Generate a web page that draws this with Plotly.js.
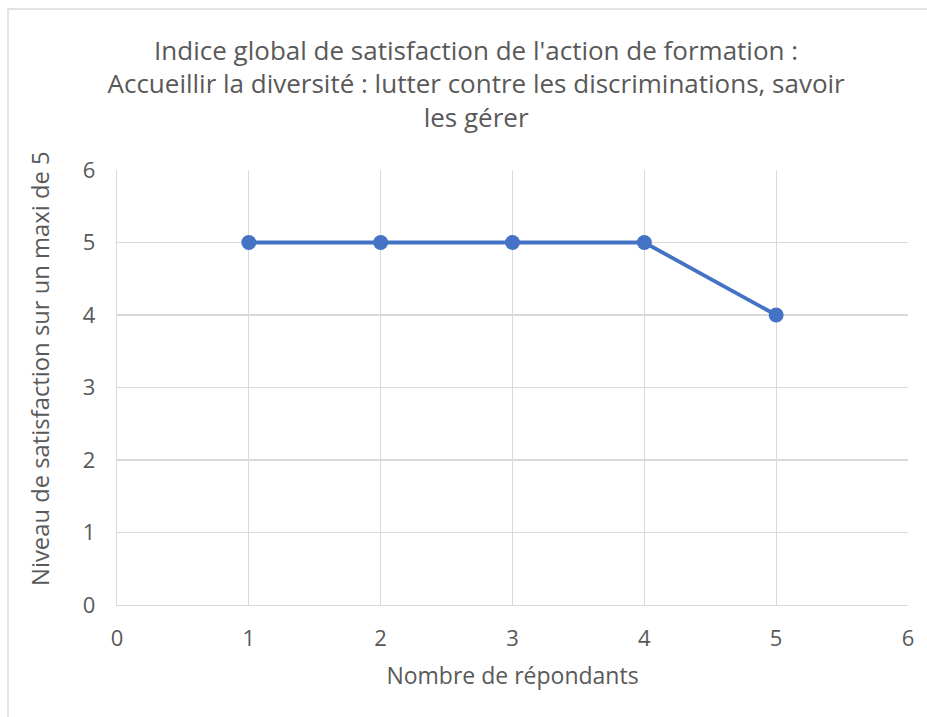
<!DOCTYPE html>
<html><head><meta charset="utf-8">
<script src="https://cdn.plot.ly/plotly-3.0.1.min.js"></script>
<style>html,body{margin:0;padding:0;background:#fff}#chart{width:927px;height:717px}</style>
</head><body><div id="chart"></div>
<script>
const respondents = [1, 2, 3, 4, 5];
const satisfaction = [5, 5, 5, 5, 4];
const xTicks = [0, 1, 2, 3, 4, 5, 6];
const yTicks = [0, 1, 2, 3, 4, 5, 6];
const titleText = "Indice global de satisfaction de l'action de formation :<br>Accueillir la diversité : lutter contre les discriminations, savoir<br>les gérer";
const xTitle = "Nombre de répondants";
const yTitle = "Niveau de satisfaction sur un maxi de 5";

const font = "Open Sans";
const grey = "#595959";
const trace = {
  x: respondents, y: satisfaction, type: "scatter", mode: "lines+markers",
  line: {color: "#4472C4", width: 3.8},
  marker: {color: "#4472C4", size: 15},
  cliponaxis: false
};
const layout = {
  width: 927, height: 717,
  margin: {l: 117, r: 19, t: 170, b: 112},
  paper_bgcolor: "#fff", plot_bgcolor: "#fff",
  showlegend: false,
  font: {family: font, color: grey, size: 18},
  title: {text: titleText, font: {family: font, size: 26, color: grey}, x: 0.454, xanchor: "center", y: 0.917, yanchor: "top", xref: "paper"},
  xaxis: {
    range: [0, 6], tickvals: xTicks, ticktext: xTicks.map(String),
    showgrid: true, gridcolor: "#d9d9d9", gridwidth: 1.3,
    zeroline: false, showline: true, linecolor: "#d9d9d9", linewidth: 1.3, mirror: false,
    ticks: "", tickfont: {size: 22, color: grey, family: font}, ticklabelstandoff: 13,
    title: {text: xTitle, font: {size: 23, color: grey, family: font}, standoff: 17}
  },
  yaxis: {
    range: [0, 6], tickvals: yTicks, ticktext: yTicks.map(String),
    showgrid: true, gridcolor: "#d9d9d9", gridwidth: 1.3,
    zeroline: false, showline: true, linecolor: "#d9d9d9", linewidth: 1.3,
    ticks: "", tickfont: {size: 22, color: grey, family: font}, ticklabelstandoff: 16
  },
  annotations: [{text: yTitle, textangle: -90, xref: "paper", yref: "paper",
    x: (40 - 117) / 791, y: (605 - 369) / 435, xanchor: "center", yanchor: "middle", showarrow: false,
    font: {size: 23.8, color: grey, family: font}}],
  shapes: [{type: "rect", xref: "paper", yref: "paper", x0: -0.1378, x1: 1.2, y0: -0.4, y1: 1.3701,
    line: {color: "#d9d9d9", width: 1.3}, fillcolor: "rgba(0,0,0,0)", layer: "below"}]
};
Plotly.newPlot("chart", [trace], layout, {displayModeBar: false, staticPlot: true});
</script></body></html>
